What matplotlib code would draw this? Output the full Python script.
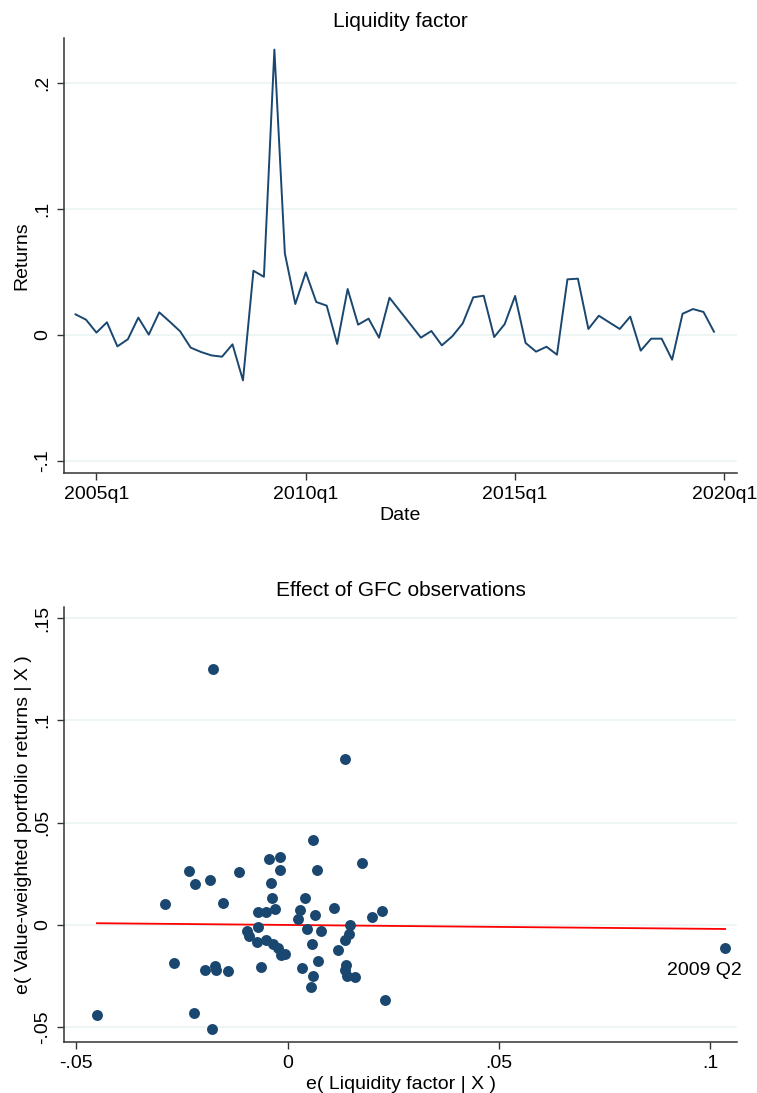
import numpy as np
import matplotlib
matplotlib.use('Agg')
import matplotlib.pyplot as plt

plt.rcParams['font.family'] = ['Liberation Sans', 'DejaVu Sans']

navy = '#1a476f'
grid_col = '#eaf2f3'

# quarterly liquidity factor returns, 2004q3 .. 2019q4 (Stata %tq: 1960q1 = 0)
start_q = 178
liquidity = [0.0164, 0.0122, 0.0019, 0.0101, -0.0090, -0.0034, 0.0138, 0.0003,
             0.0180, 0.0106, 0.0029, -0.0100, -0.0135, -0.0162, -0.0172, -0.0074,
             -0.0360, 0.0510, 0.0462, 0.2265, 0.0648, 0.0246, 0.0497, 0.0262,
             0.0233, -0.0071, 0.0365, 0.0082, 0.0130, -0.0021, 0.0296, 0.0190,
             0.0085, -0.0021, 0.0032, -0.0082, -0.0010, 0.0093, 0.0299, 0.0312,
             -0.0016, 0.0086, 0.0310, -0.0063, -0.0132, -0.0093, -0.0156, 0.0442,
             0.0447, 0.0048, 0.0153, 0.0100, 0.0048, 0.0146, -0.0124, -0.0029,
             -0.0029, -0.0196, 0.0169, 0.0206, 0.0183, 0.0026]
quarters = start_q + np.arange(len(liquidity))
date_ticks = [180, 200, 220, 240]
date_labels = ['2005q1', '2010q1', '2015q1', '2020q1']
ret_ticks = [-0.1, 0, 0.1, 0.2]
ret_labels = ['-.1', '0', '.1', '.2']

# added-variable plot residuals
e_liq = [-0.0451, -0.0289, -0.0268, -0.0233, -0.0220, -0.0222, -0.0196, -0.0183,
         -0.0179, -0.0171, -0.0170, -0.0153, -0.0141, -0.0115, -0.0096, -0.0092,
         -0.0073, -0.0071, -0.0070, -0.0064, -0.0051, -0.0050, -0.0044, -0.0039,
         -0.0036, -0.0035, -0.0029, -0.0023, -0.0019, -0.0018, -0.0016, -0.0007,
         0.0035, 0.0040, 0.0030, 0.0024, 0.0059, 0.0047, 0.0057, 0.0061,
         0.0056, 0.0069, 0.0064, 0.0078, 0.0072, 0.0110, 0.0177, 0.0200,
         0.0224, 0.0147, 0.0146, 0.0136, 0.0120, 0.0138, 0.0136, 0.0141,
         0.0159, 0.0230, 0.0136, -0.0176, 0.1035]
e_ret = [-0.0438, 0.0103, -0.0184, 0.0265, 0.0199, -0.0430, -0.0220, 0.0218,
         -0.0510, -0.0200, -0.0221, 0.0106, -0.0226, 0.0259, -0.0031, -0.0052,
         -0.0081, -0.0010, 0.0062, -0.0204, 0.0065, -0.0072, 0.0323, 0.0207,
         0.0132, -0.0093, 0.0080, -0.0111, 0.0332, 0.0267, -0.0147, -0.0142,
         -0.0212, 0.0132, 0.0073, 0.0028, 0.0415, -0.0020, -0.0093, -0.0248,
         -0.0303, 0.0267, 0.0049, -0.0029, -0.0176, 0.0082, 0.0302, 0.0038,
         0.0070, -0.0002, -0.0043, -0.0075, -0.0124, -0.0196, -0.0220, -0.0249,
         -0.0253, -0.0367, 0.0813, 0.1251, -0.0111]
fit_slope = -0.019
outlier_label = '2009 Q2'
avp_xticks = [-0.05, 0, 0.05, 0.1]
avp_xlabels = ['-.05', '0', '.05', '.1']
avp_yticks = [-0.05, 0, 0.05, 0.1, 0.15]
avp_ylabels = ['-.05', '0', '.05', '.1', '.15']

W, H = 757, 1093
fig = plt.figure(figsize=(W / 100, H / 100), dpi=100)
ax1 = fig.add_axes([64 / W, 1 - 473 / H, 673 / W, 435 / H])
ax2 = fig.add_axes([64 / W, 1 - 1042 / H, 673 / W, 435 / H])


def style(ax):
    for s in ['top', 'right']:
        ax.spines[s].set_visible(False)
    for s in ['left', 'bottom']:
        ax.spines[s].set_color('#333333')
        ax.spines[s].set_linewidth(1.1)
    ax.tick_params(length=5, width=1, color='#333333', labelsize=14, pad=4)
    ax.yaxis.grid(True, color=grid_col, linewidth=1.1)
    ax.set_axisbelow(True)
    for lab in ax.get_yticklabels():
        lab.set_rotation(90)
        lab.set_va('center')
        lab.set_ha('right')


# top: time series
ax1.plot(quarters, liquidity, color=navy, linewidth=1.4)
ax1.set_xlim(176.9, 241.2)
ax1.set_ylim(-0.1095, 0.2357)
ax1.set_xticks(date_ticks, date_labels)
ax1.set_yticks(ret_ticks, ret_labels)
ax1.set_title('Liquidity factor', fontsize=15, pad=8)
ax1.set_xlabel('Date', fontsize=14, labelpad=3)
ax1.set_ylabel('Returns', fontsize=14, labelpad=3)
style(ax1)

# bottom: added-variable plot
ax2.scatter(e_liq, e_ret, s=62, color=navy, zorder=3, linewidths=0)
xs = np.array([min(e_liq), max(e_liq)])
ax2.plot(xs, fit_slope * xs, color='red', linewidth=1.3, zorder=2)
ax2.annotate(outlier_label, (e_liq[-1], e_ret[-1]), textcoords='offset points',
             xytext=(12, -10), ha='right', va='top', fontsize=14)
ax2.set_xlim(-0.0529, 0.1063)
ax2.set_ylim(-0.0572, 0.1554)
ax2.set_xticks(avp_xticks, avp_xlabels)
ax2.set_yticks(avp_yticks, avp_ylabels)
ax2.set_title('Effect of GFC observations', fontsize=15, pad=8)
ax2.set_xlabel('e( Liquidity factor | X )', fontsize=14, labelpad=3)
ax2.set_ylabel('e( Value-weighted portfolio returns | X )', fontsize=14, labelpad=2)
style(ax2)

fig.savefig('out.png', dpi=100)
